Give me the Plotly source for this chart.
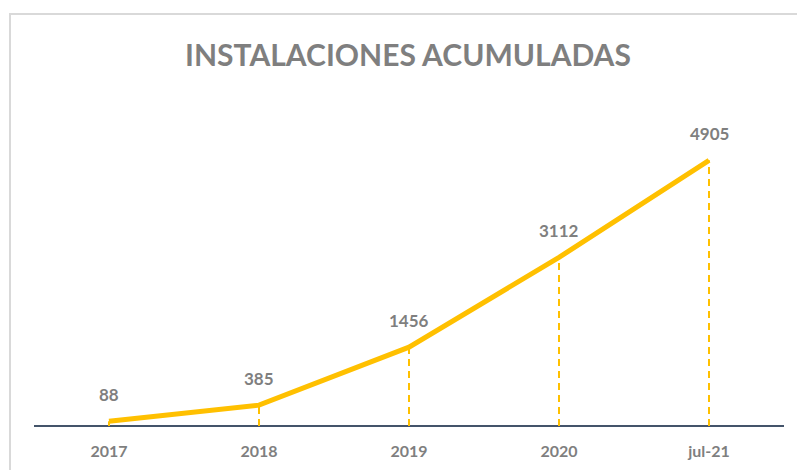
import plotly.graph_objects as go

categories = ["2017", "2018", "2019", "2020", "jul-21"]
values = [88, 385, 1456, 3112, 4905]
title_text = "INSTALACIONES ACUMULADAS"

W, H = 797, 470
L, R, T, B = 34, 13, 101, 44
pw = W - L - R
ph = H - T - B

YELLOW = "#FFC000"
GRAY = "#7F7F7F"
FONT = "Lato"

fig = go.Figure()

# drop lines
for c, v in zip(categories, values):
    fig.add_trace(go.Scatter(
        x=[c, c], y=[0, v], mode="lines",
        line=dict(color=YELLOW, width=2, dash="7px,5px"),
        hoverinfo="skip", showlegend=False))

fig.add_trace(go.Scatter(
    x=categories, y=values, mode="lines",
    line=dict(color=YELLOW, width=5),
    showlegend=False))

for i, v in enumerate(values):
    fig.add_annotation(x=i, y=v, text="<b>" + str(v) + "</b>", showarrow=False,
                       yshift=27, font=dict(family=FONT, size=17, color=GRAY))

# frame
fig.add_shape(type="rect", xref="paper", yref="paper",
              x0=(10 - L) / pw, x1=(W + 20 - L) / pw,
              y0=(H - B - (H + 20)) / ph, y1=(H - B - 14) / ph,
              line=dict(color="#D9D9D9", width=2), layer="below")

fig.update_layout(
    width=W, height=H,
    margin=dict(l=L, r=R, t=T, b=B),
    paper_bgcolor="white", plot_bgcolor="white",
    title=dict(text="<b>" + title_text + "</b>", x=(408) / W, xanchor="center",
               y=1 - 55 / H, yanchor="middle",
               font=dict(family=FONT, size=30, color=GRAY)),
    xaxis=dict(type="category", showgrid=False, zeroline=False,
               showline=False, ticks="", ticklabelstandoff=14, automargin=False,
               tickfont=dict(family=FONT, size=16, color=GRAY),
               range=[-0.5, 4.5]),
    yaxis=dict(range=[0, 6000], showgrid=False, zeroline=True,
               zerolinecolor="#44546A", zerolinewidth=2, automargin=False,
               showticklabels=False, showline=False, ticks=""),
)
fig.update_xaxes(tickprefix="<b>", ticksuffix="</b>")

fig.write_html("out.html", config={"displayModeBar": False},
               post_script="document.body.style.margin='0';document.body.style.overflow='hidden';")
